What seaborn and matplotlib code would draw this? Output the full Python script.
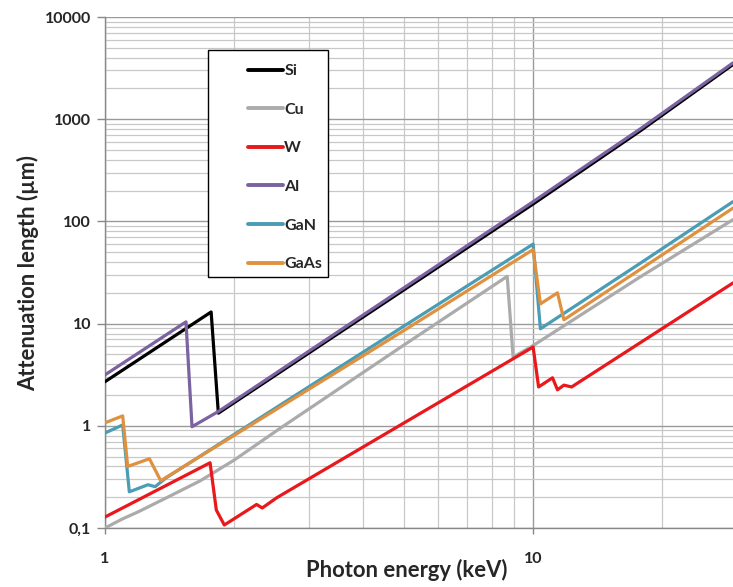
import matplotlib
matplotlib.use("Agg")
import matplotlib.pyplot as plt
import matplotlib.ticker as ticker
from matplotlib.patches import Rectangle
import seaborn as sns

# Photon energy (keV) / attenuation length (um)
si_e = [1.0, 1.77, 1.84, 5.0, 10.0, 17.8, 29.3]
si_v = [2.7, 13.0, 1.33, 21.5, 148, 770, 3430]

cu_e = [1.0, 1.1, 1.2, 1.4, 1.67, 2.0, 2.56, 5.0, 8.7, 8.98, 10.0, 17.8, 29.3]
cu_v = [0.10, 0.123, 0.145, 0.20, 0.29, 0.46, 0.94, 6.2, 29.0, 4.7, 6.1, 28.7, 104]

w_e = [1.0, 1.76, 1.82, 1.90, 2.26, 2.33, 2.52, 5.0, 10.0, 10.3, 11.1, 11.4, 11.8, 12.3, 29.3]
w_v = [0.128, 0.435, 0.15, 0.107, 0.17, 0.157, 0.198, 1.07, 5.9, 2.4, 2.95, 2.25, 2.5, 2.4, 25]

al_e = [1.0, 1.546, 1.597, 1.84, 5.0, 10.0, 17.8, 29.3]
al_v = [3.15, 10.4, 0.98, 1.38, 22.5, 156, 805, 3560]

gan_e = [1.0, 1.10, 1.14, 1.26, 1.31, 1.39, 5.0, 10.0, 10.4, 17.8, 29.3]
gan_v = [0.85, 1.02, 0.226, 0.265, 0.254, 0.31, 9.5, 60, 8.9, 39, 156]

gaas_e = [1.0, 1.10, 1.13, 1.27, 1.35, 5.0, 10.0, 10.4, 11.4, 11.8, 17.8, 29.3]
gaas_v = [1.07, 1.25, 0.40, 0.476, 0.29, 8.6, 53, 15.6, 20, 10.9, 34, 135]

names = ["Si", "Cu", "W", "Al", "GaN", "GaAs"]
colors = ["#000000", "#ABABAB", "#E8181C", "#7B62A0", "#4A9DB4", "#E0913F"]

y_ticks = [0.1, 1, 10, 100, 1000, 10000]
y_tick_labels = ["0,1", "1", "10", "100", "1000", "10000"]
x_ticks = [1, 10]
x_tick_labels = ["1", "10"]

sns.set_style("white")
plt.rcParams["font.family"] = ["Lato", "DejaVu Sans"]

fig = plt.figure(figsize=(7.33, 5.87), dpi=100)
ax = fig.add_axes([0.1432, 0.1005, 0.8568, 0.8705])

series = [(si_e, si_v), (cu_e, cu_v), (w_e, w_v), (al_e, al_v), (gan_e, gan_v), (gaas_e, gaas_v)]
for (e, v), name, col in zip(series, names, colors):
    sns.lineplot(x=e, y=v, ax=ax, color=col, lw=2.3, label=name,
                 sort=False, estimator=None, zorder=3)

ax.set_xscale("log")
ax.set_yscale("log")
ax.set_xlim(1, 29.3)
ax.set_ylim(0.1, 10000)

# grid
ax.xaxis.set_minor_locator(ticker.LogLocator(base=10, subs=range(2, 10), numticks=50))
ax.yaxis.set_minor_locator(ticker.LogLocator(base=10, subs=range(2, 10), numticks=50))
ax.grid(True, which="major", color="#9A9A9A", lw=1.0, zorder=0)
ax.grid(True, which="minor", color="#C8C8C8", lw=0.9, zorder=0)
ax.set_axisbelow(True)

ax.yaxis.set_major_locator(ticker.FixedLocator(y_ticks))
ax.yaxis.set_major_formatter(ticker.FixedFormatter(y_tick_labels))
ax.xaxis.set_major_locator(ticker.FixedLocator(x_ticks))
ax.xaxis.set_major_formatter(ticker.FixedFormatter(x_tick_labels))
ax.yaxis.set_minor_formatter(ticker.NullFormatter())
ax.xaxis.set_minor_formatter(ticker.NullFormatter())

ax.tick_params(axis="y", which="major", length=6, width=1, color="#888888",
               pad=4, labelsize=11.5, left=True)
ax.tick_params(axis="x", which="major", length=4, width=1, color="#888888",
               pad=13, labelsize=11.5, bottom=True)
ax.tick_params(which="minor", length=0)
for lab in ax.get_xticklabels() + ax.get_yticklabels():
    lab.set_fontweight("bold")

for s in ["top", "right"]:
    ax.spines[s].set_visible(False)
for s in ["left", "bottom"]:
    ax.spines[s].set_color("#888888")
    ax.spines[s].set_linewidth(1.0)

ax.set_xlabel("Photon energy (keV)", fontsize=15.8, fontweight="bold")
ax.set_ylabel("Attenuation length (µm)", fontsize=15.8, fontweight="bold")
ax.xaxis.set_label_coords(0.48, -0.06)
ax.yaxis.set_label_coords(-0.105, 0.5)

# legend box drawn separately (padding is uneven in the original)
box = Rectangle((0.164, 0.491), 0.191, 0.444, transform=ax.transAxes,
                facecolor="white", edgecolor="black", lw=1.0, zorder=4.5)
ax.add_patch(box)
leg = ax.legend(loc="upper left", bbox_to_anchor=(0.227, 0.908), frameon=False,
                borderpad=0, borderaxespad=0, labelspacing=1.53,
                handlelength=2.25, handletextpad=0.05,
                prop={"weight": "bold", "size": 11.5})
leg.set_zorder(5)
for h in leg.get_lines():
    h.set_linewidth(2.8)

fig.savefig("out.png", dpi=100)
